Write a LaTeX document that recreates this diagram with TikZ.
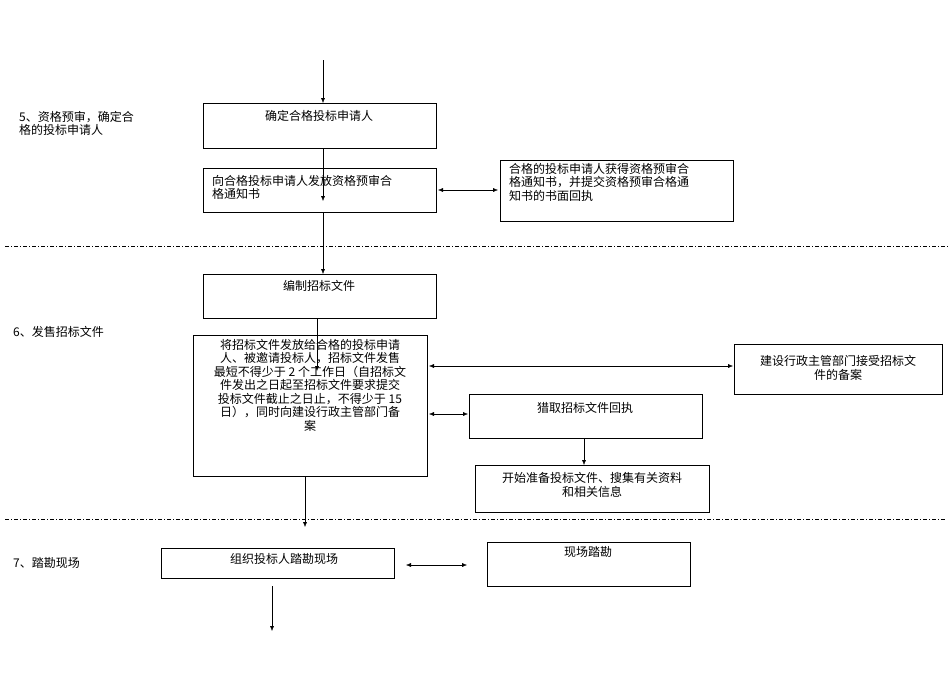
\documentclass[tikz,border=0pt]{standalone}
\usepackage{fontspec}
\setmainfont{Liberation Serif}
\newfontfamily\cjk{Noto Sans CJK SC}
\usetikzlibrary{arrows.meta}
\begin{document}
\begin{tikzpicture}[x=1pt,y=-1pt,
 box/.style={draw,line width=0.8pt},
 t/.style={font=\cjk\fontsize{12}{13.5}\selectfont,align=center,inner sep=1pt},
 arr/.style={-{Latex[length=5pt,width=4pt]}},
 darr/.style={{Latex[length=5pt,width=4pt]}-{Latex[length=5pt,width=4pt]}},
 sep/.style={dash pattern=on 4pt off 2pt on 1pt off 2pt,line width=0.6pt}]
\useasboundingbox (0,0) rectangle (950,672);
\draw[box] (203,103) rectangle (436,148); \node[t] (b1) at (319,116) {确定合格投标申请人};
\draw[box] (203,168) rectangle (436,212); \node[t,align=left,anchor=north west] (b2) at (211,174) {向合格投标申请人发放资格预审合\\格通知书};
\draw[box] (500,160) rectangle (733,221); \node[t,align=left,anchor=north west] (b3) at (508,162) {合格的投标申请人获得资格预审合\\格通知书，并提交资格预审合格通\\知书的书面回执};
\draw[box] (203,274) rectangle (436,318); \node[t] (b4) at (319,286) {编制招标文件};
\draw[box] (193,335) rectangle (427,476); \node[t,anchor=north] (b5) at (310,338) {将招标文件发放给合格的投标申请\\人、被邀请投标人，招标文件发售\\最短不得少于 2 个工作日（自招标文\\件发出之日起至招标文件要求提交\\投标文件截止之日止，不得少于 15\\日），同时向建设行政主管部门备\\案};
\draw[box] (734,344) rectangle (942,394); \node[t] (b6) at (838,368) {建设行政主管部门接受招标文\\件的备案};
\draw[box] (469,394) rectangle (702,438); \node[t] (b7) at (585,408) {猎取招标文件回执};
\draw[box] (475,465) rectangle (709,512); \node[t] (b8) at (592,485) {开始准备投标文件、搜集有关资料\\和相关信息};
\draw[box] (161,548) rectangle (394,578); \node[t] (b9) at (284,559) {组织投标人踏勘现场};
\draw[box] (487,542) rectangle (690,586); \node[t] (b10) at (588,552) {现场踏勘};
\node[t,align=left,anchor=north west] (l5) at (18,110) {5、资格预审，确定合\\格的投标申请人};
\node[t,anchor=west] (l6) at (12,332) {6、发售招标文件};
\node[t,anchor=west] (l7) at (12,563) {7、踏勘现场};
\draw[sep] (5,246) -- (948,246);
\draw[sep] (5,519) -- (945,519);
\draw[arr] (323,60) -- (323,103);
\draw[arr] (323,148) -- (323,201);
\draw[arr] (323,212) -- (323,274);
\draw[arr] (317,318) -- (317,371);
\draw[arr] (305,476) -- (305,527);
\draw[arr] (272,586) -- (272,631);
\draw[darr] (438,190) -- (498,190);
\draw[darr] (429,366) -- (733,366);
\draw[darr] (429,414) -- (468,414);
\draw[arr] (584,438) -- (584,465);
\draw[darr] (406,565) -- (467,565);
\end{tikzpicture}
\end{document}
